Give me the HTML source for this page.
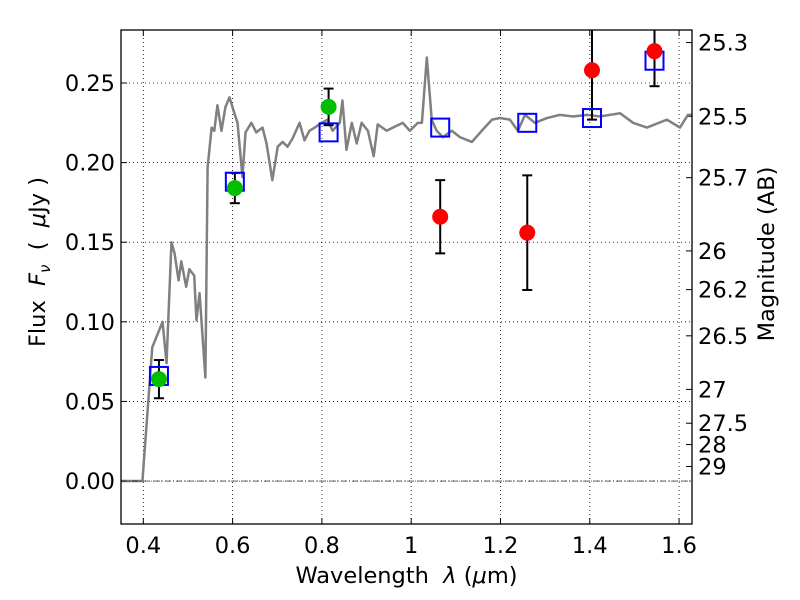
<!DOCTYPE html>
<html><head><meta charset="utf-8"><style>body{margin:0;background:#fff}svg{display:block;font-family:"DejaVu Sans","Liberation Sans",sans-serif}text{white-space:pre}</style></head>
<body>
<svg id="chart" width="800" height="600" viewBox="0 0 800 600"></svg>
<script>
const xTicks=[0.4,0.6,0.8,1.0,1.2,1.4,1.6];
const xTickLabels=["0.4","0.6","0.8","1","1.2","1.4","1.6"];
const yTicks=[0,0.05,0.1,0.15,0.2,0.25];
const yTickLabels=["0.00","0.05","0.10","0.15","0.20","0.25"];
const magTicks=[25.3,25.5,25.7,26,26.2,26.5,27,27.5,28,29];
const magLabels=["25.3","25.5","25.7","26","26.2","26.5","27","27.5","28","29"];
const modelLam=[0.35,0.398,0.42,0.436,0.443,0.452,0.463,0.47,0.479,0.485,0.496,0.503,0.514,0.519,0.526,0.539,0.544,0.553,0.559,0.566,0.575,0.584,0.593,0.604,0.611,0.622,0.629,0.642,0.653,0.667,0.676,0.689,0.701,0.712,0.723,0.734,0.75,0.761,0.772,0.784,0.799,0.813,0.824,0.84,0.846,0.855,0.867,0.878,0.889,0.903,0.916,0.925,0.945,0.959,0.981,0.997,1.015,1.024,1.035,1.046,1.057,1.071,1.091,1.109,1.136,1.158,1.181,1.199,1.221,1.239,1.255,1.277,1.304,1.333,1.362,1.394,1.423,1.468,1.497,1.528,1.573,1.602,1.62,1.63];
const modelFlux=[0,0,0.084,0.095,0.10,0.074,0.150,0.143,0.126,0.138,0.122,0.133,0.129,0.101,0.118,0.065,0.197,0.222,0.220,0.236,0.220,0.235,0.241,0.231,0.225,0.191,0.219,0.225,0.219,0.222,0.212,0.189,0.210,0.213,0.210,0.215,0.225,0.214,0.220,0.222,0.225,0.227,0.220,0.225,0.239,0.208,0.225,0.212,0.225,0.220,0.204,0.224,0.220,0.222,0.225,0.220,0.225,0.225,0.266,0.227,0.220,0.216,0.220,0.216,0.213,0.220,0.227,0.228,0.227,0.220,0.230,0.225,0.228,0.230,0.229,0.230,0.229,0.231,0.225,0.222,0.227,0.222,0.230,0.230];
const bandLam=[0.435,0.605,0.815,1.065,1.26,1.405,1.545];
const modelBand=[0.066,0.188,0.219,0.222,0.225,0.228,0.264];
const detLam=[0.435,0.605,0.815];
const detFlux=[0.064,0.184,0.235];
const detErr=[0.012,0.0095,0.0115];
const lowLam=[1.065,1.26,1.405,1.545];
const lowFlux=[0.166,0.156,0.258,0.270];
const lowErr=[0.023,0.036,0.031,0.022];

const L=121,R=692,T=30,B=524,X0=0.35,X1=1.629,Y0=-0.027,Y1=0.2833;
const FS=22.5;
const sx=v=>L+(v-X0)/(X1-X0)*(R-L);
const sy=v=>B-(v-Y0)/(Y1-Y0)*(B-T);
const NS="http://www.w3.org/2000/svg";
const svg=document.getElementById('chart');
function mk(tag,attrs,parent){const e=document.createElementNS(NS,tag);for(const k in attrs)e.setAttribute(k,attrs[k]);(parent||svg).appendChild(e);return e;}
function txt(s,attrs){const e=mk('text',attrs);e.textContent=s;return e;}
const defs=mk('defs',{});
const cp=mk('clipPath',{id:'plotclip'},defs);
mk('rect',{x:L,y:T,width:R-L,height:B-T},cp);

xTicks.forEach((t,i)=>{const g=mk('line',{x1:sx(t),x2:sx(t),y1:T,y2:B,stroke:'#000','stroke-width':0.8,'stroke-dasharray':'1,3'});


mk('line',{x1:sx(t),x2:sx(t),y1:B,y2:B-6,stroke:'#000'});mk('line',{x1:sx(t),x2:sx(t),y1:T,y2:T+6,stroke:'#000'});
const l=txt(xTickLabels[i],{x:sx(t),y:B+29,'font-size':FS,'text-anchor':'middle'});

});
yTicks.forEach((t,i)=>{const g=mk('line',{x1:L,x2:R,y1:sy(t),y2:sy(t),stroke:'#000','stroke-width':0.8,'stroke-dasharray':'1,3'});


mk('line',{x1:L,x2:L+6,y1:sy(t),y2:sy(t),stroke:'#000'});
const l=txt(yTickLabels[i],{x:L-6,y:sy(t)+8,'font-size':FS,'text-anchor':'end'});

});
magTicks.forEach((m,i)=>{const f=Math.pow(10,(23.9-m)/2.5);const y=sy(f);
mk('line',{x1:R-6,x2:R,y1:y,y2:y,stroke:'#000'});
const l=txt(magLabels[i],{x:R+6,y:y+8,'font-size':FS});

});

const plot=mk('g',{'clip-path':'url(#plotclip)'});
const pts=modelLam.map((l,i)=>sx(l)+','+sy(modelFlux[i])).join(' ');
const pl=mk('polyline',{points:pts,fill:'none',stroke:'#808080','stroke-width':2.5,'stroke-linejoin':'round'},plot);



function eb(x,f,e,name){const g=mk('g',{stroke:'#000','stroke-width':2},plot);


const X=sx(x);mk('line',{x1:X,x2:X,y1:sy(f+e),y2:sy(f-e)},g);
mk('line',{x1:X-5,x2:X+5,y1:sy(f+e),y2:sy(f+e)},g);mk('line',{x1:X-5,x2:X+5,y1:sy(f-e),y2:sy(f-e)},g);}
detLam.forEach((l,i)=>eb(l,detFlux[i],detErr[i],'detection-errorbar'));
lowLam.forEach((l,i)=>eb(l,lowFlux[i],lowErr[i],'upper-errorbar'));
bandLam.forEach((l,i)=>{const r=mk('rect',{x:sx(l)-9,y:sy(modelBand[i])-9,width:18,height:18,fill:'none',stroke:'#0000ff','stroke-width':2},plot);

});
detLam.forEach((l,i)=>{const c=mk('circle',{cx:sx(l),cy:sy(detFlux[i]),r:8,fill:'#00bf00'},plot);

});
lowLam.forEach((l,i)=>{const c=mk('circle',{cx:sx(l),cy:sy(lowFlux[i]),r:8,fill:'#ff0000'},plot);

});

mk('line',{x1:L,x2:R,y1:sy(0),y2:sy(0),stroke:'#000','stroke-width':0.6,'stroke-dasharray':'6,2,1,2'});
mk('rect',{x:L,y:T,width:R-L,height:B-T,fill:'none',stroke:'#000','stroke-width':1.3});
let a=mk('text',{x:(L+R)/2,y:583,'font-size':FS,'text-anchor':'middle'});
a.innerHTML='Wavelength  <tspan font-style="italic">λ</tspan> (<tspan font-style="italic">μ</tspan>m)';


a=mk('text',{x:0,y:0,'font-size':FS,'text-anchor':'middle',transform:'translate(45,262) rotate(-90)'});
a.innerHTML='Flux  <tspan font-style="italic">F</tspan><tspan font-style="italic" font-size="15" dy="5">ν</tspan><tspan dy="-5">  (  </tspan><tspan font-style="italic">μ</tspan>Jy )';


a=txt('Magnitude (AB)',{x:0,y:0,'font-size':FS,'text-anchor':'middle',transform:'translate(774,254) rotate(-90)'});


</script>
</body></html>
